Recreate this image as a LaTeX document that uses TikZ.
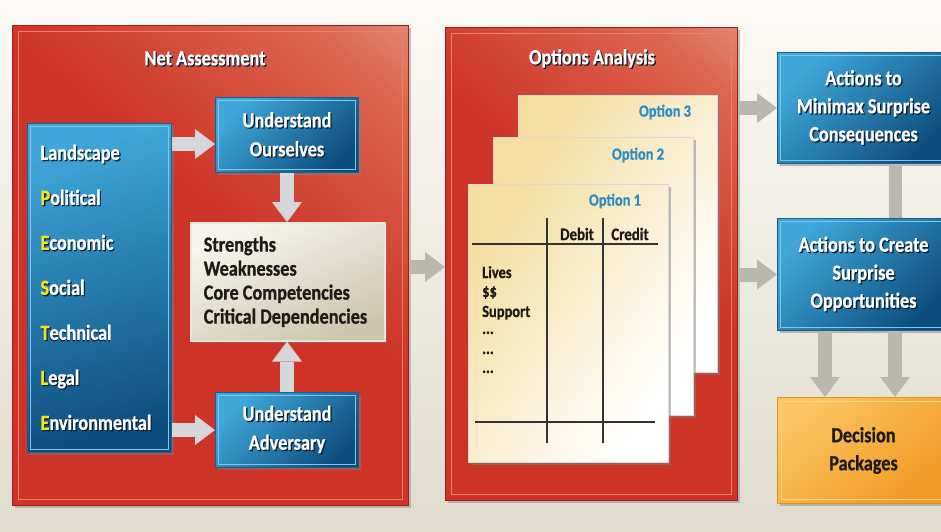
\documentclass[tikz,border=0pt]{standalone}
\usepackage{fontspec}
\setmainfont{Carlito}[FakeStretch=0.85, BoldFeatures={FakeBold=0.8}]
\usetikzlibrary{arrows.meta,shadows,calc}
\definecolor{bgtop}{HTML}{FBFAF6}
\definecolor{bgbot}{HTML}{E0DCCC}
\definecolor{redmain}{HTML}{CE3327}
\definecolor{redmid}{HTML}{DC6650}
\definecolor{redlt}{HTML}{F2C0B0}
\definecolor{reddk}{HTML}{A01E16}
\definecolor{redln}{HTML}{E8806A}
\definecolor{bluelt}{HTML}{3FA7DA}
\definecolor{bluedk}{HTML}{0D4E7E}
\definecolor{blueln}{HTML}{79C9EE}
\definecolor{blueod}{HTML}{1B6190}
\definecolor{ylw}{HTML}{F2E41E}
\definecolor{shdw}{HTML}{0B2233}
\definecolor{arrinc}{HTML}{D6D7D9}
\definecolor{arroutc}{HTML}{BAB8AE}
\definecolor{cream}{HTML}{F4DEA2}
\definecolor{optblue}{HTML}{2A8CC6}
\definecolor{ink}{HTML}{1E1A16}
\definecolor{orlt}{HTML}{FCC462}
\definecolor{ordk}{HTML}{F09A22}
\definecolor{orln}{HTML}{FFD27C}
\definecolor{ordr}{HTML}{E09020}
\definecolor{beigelt}{HTML}{F7F5EE}
\definecolor{beigedk}{HTML}{CEC6AC}
\definecolor{beigeln}{HTML}{EAE6DA}
\pgfdeclareverticalshading{redsh}{100bp}{color(0bp)=(redmain); color(55bp)=(redmain); color(78bp)=(redmid); color(100bp)=(redlt)}
\newcommand\yl[1]{\textcolor{ylw}{#1}}
\newcommand\sh[1]{\leavevmode\rlap{\kern1.3pt\raisebox{-1.3pt}{\color{shdw}\def\yl##1{##1}#1}}#1}
\newcommand\fnt[2]{\bfseries\fontsize{#1}{#2}\selectfont\spaceskip=0.19em\relax\xspaceskip=0.19em\relax}
\tikzset{
  redbox/.style={draw=reddk, line width=1.2pt, shading=redsh, shading angle=-40,
    drop shadow={shadow xshift=2pt, shadow yshift=-2pt, opacity=.45},
    anchor=north west, inner sep=0pt,
    path picture={\draw[redln, line width=1.2pt]
      ([shift={(6,6)}]path picture bounding box.north west) rectangle
      ([shift={(-6,-6)}]path picture bounding box.south east);}},
  bluebox/.style={draw=blueod, line width=1pt, shading=axis, top color=bluelt,
    bottom color=bluedk, shading angle=45,
    drop shadow={shadow xshift=2.5pt, shadow yshift=-2.5pt, opacity=.5},
    anchor=north west, inner sep=0pt, text=white, align=center,
    font=\fnt{21.5}{29},
    path picture={\draw[blueln, line width=1.3pt]
      ([shift={(3,3)}]path picture bounding box.north west) rectangle
      ([shift={(-3,-3)}]path picture bounding box.south east);}},
  beigebox/.style={draw=beigeln, line width=1.5pt, shading=axis, top color=beigelt,
    bottom color=beigedk, shading angle=25,
    drop shadow={shadow xshift=2.5pt, shadow yshift=-2.5pt, opacity=.45},
    anchor=north west, inner ysep=0pt, inner xsep=13pt, align=flush left, text=ink,
    font=\fnt{21.5}{24}},
  orbox/.style={draw=ordr, line width=1pt, shading=axis, top color=orlt,
    bottom color=ordk, shading angle=40,
    drop shadow={shadow xshift=2.5pt, shadow yshift=-2.5pt, opacity=.45},
    anchor=north west, inner sep=0pt, text=ink, align=center,
    font=\fnt{21.5}{28},
    path picture={\draw[orln, line width=1.3pt]
      ([shift={(4,4)}]path picture bounding box.north west) rectangle
      ([shift={(-4,-4)}]path picture bounding box.south east);}},
  page/.style={draw=black!15, line width=0.5pt, shading=axis, top color=cream,
    bottom color=white, shading angle=55,
    drop shadow={shadow xshift=2.5pt, shadow yshift=-2.5pt, opacity=.5},
    anchor=north west, inner sep=0pt},
  titletext/.style={text=white, font=\fnt{21.5}{24}, inner sep=0pt},
  optlab/.style={text=optblue, font=\fnt{17}{20}, inner sep=0pt},
  tbltext/.style={text=ink, font=\fnt{17.5}{20}, inner sep=0pt},
  rowtext/.style={text=ink, font=\fnt{17}{20}, inner sep=0pt, anchor=base west},
  tbl/.style={draw=black!80, line width=1.1pt},
  arrin/.style={draw=arrinc, line width=14pt,
    -{Triangle[width=30pt,length=20pt,line width=0pt]}},
  arrout/.style={draw=arroutc, line width=14pt,
    -{Triangle[width=30pt,length=20pt,line width=0pt]}},
  barout/.style={draw=arroutc, line width=13pt}
}
\begin{document}
\begin{tikzpicture}[x=1pt,y=-1pt]
\useasboundingbox (0,0) rectangle (941,531);
\clip (0,0) rectangle (941,531);
\shade[top color=bgtop, bottom color=bgbot] (0,0) rectangle (941,531);

% Net Assessment
\node[redbox, minimum width=396, minimum height=480] (net) at (12,25) {};
\node[titletext] (nettitle) at (205,59) {\sh{Net Assessment}};
\node[bluebox, shading angle=15, minimum width=144, minimum height=329,
  align=flush left, text width=118, inner xsep=13pt,
  font=\fnt{21.5}{45}] (land) at (27,123)
  {\sh{Landscape}\\\sh{\yl{P}olitical}\\\sh{\yl{E}conomic}\\\sh{\yl{S}ocial}\\
   \sh{\yl{T}echnical}\\\sh{\yl{L}egal}\\\sh{\yl{E}nvironmental}};
\node[bluebox, minimum width=143, minimum height=75] (ours) at (215,97)
  {\sh{Understand}\\\sh{Ourselves}};
\node[beigebox, minimum width=194, minimum height=118, text width=168] (strg) at (190,222)
  {Strengths\\Weaknesses\\Core Competencies\\Critical Dependencies};
\node[bluebox, minimum width=143, minimum height=75] (adv) at (215,392)
  {\sh{Understand}\\\sh{Adversary}};

% Options Analysis
\node[redbox, minimum width=292, minimum height=473] (opt) at (445,27) {};
\node[titletext] (opttitle) at (592,59) {\sh{Options Analysis}};
\node[page, minimum width=199, minimum height=277] (p3) at (518,95) {};
\node[page, minimum width=200, minimum height=278] (p2) at (493,137) {};
\node[page, minimum width=200, minimum height=278] (p1) at (468,184) {};
\node[optlab] (o3) at (665,112) {Option 3};
\node[optlab] (o2) at (638,155) {Option 2};
\node[optlab] (o1) at (615,201) {Option 1};
\draw[tbl] (547,218) -- (547,443);
\draw[tbl] (603,218) -- (603,443);
\draw[tbl] (472,244) -- (658,244);
\draw[tbl] (475,422) -- (655,422);
\node[tbltext] (deb) at (577,234) {Debit};
\node[tbltext] (cre) at (630,234) {Credit};
\node[rowtext] (r1) at (482,278) {Lives};
\node[rowtext] (r2) at (482,297) {\$\$};
\node[rowtext] (r3) at (482,317) {Support};
\node[rowtext] (r4) at (482,334) {...};
\node[rowtext] (r5) at (482,354) {...};
\node[rowtext] (r6) at (482,373) {...};

% Right column
\node[bluebox, minimum width=172, minimum height=111, font=\fnt{21.5}{28}] (rtop) at (777,52)
  {\sh{Actions to}\\\sh{Minimax Surprise}\\\sh{Consequences}};
\node[bluebox, minimum width=172, minimum height=112, font=\fnt{21.5}{28}] (rmid) at (777,218)
  {\sh{Actions to Create}\\\sh{Surprise}\\\sh{Opportunities}};
\node[orbox, minimum width=172, minimum height=106] (dec) at (777,397)
  {Decision\\Packages};

% connectors
\coordinate (y1) at (0,144);
\coordinate (y2) at (0,267);
\coordinate (x3) at (895,0);
\coordinate (x4) at (825,0);
\draw[arrin] (land.east |- y1) -- (ours.west |- y1);
\draw[arrin] (land.east |- adv.west) -- (adv.west);
\draw[arrin] (ours.south) -- (ours.south |- strg.north);
\draw[arrin] (adv.north) -- (adv.north |- strg.south);
\draw[arrout] (net.east |- y2) -- (opt.west |- y2);
\draw[arrout] (opt.east |- rtop.west) -- (rtop.west);
\draw[arrout] (opt.east |- rmid.west) -- (rmid.west);
\draw[barout] (rtop.south -| x3) -- (rmid.north -| x3);
\draw[arrout] (rmid.south -| x4) -- (dec.north -| x4);
\draw[arrout] (rmid.south -| x3) -- (dec.north -| x3);
\end{tikzpicture}
\end{document}
